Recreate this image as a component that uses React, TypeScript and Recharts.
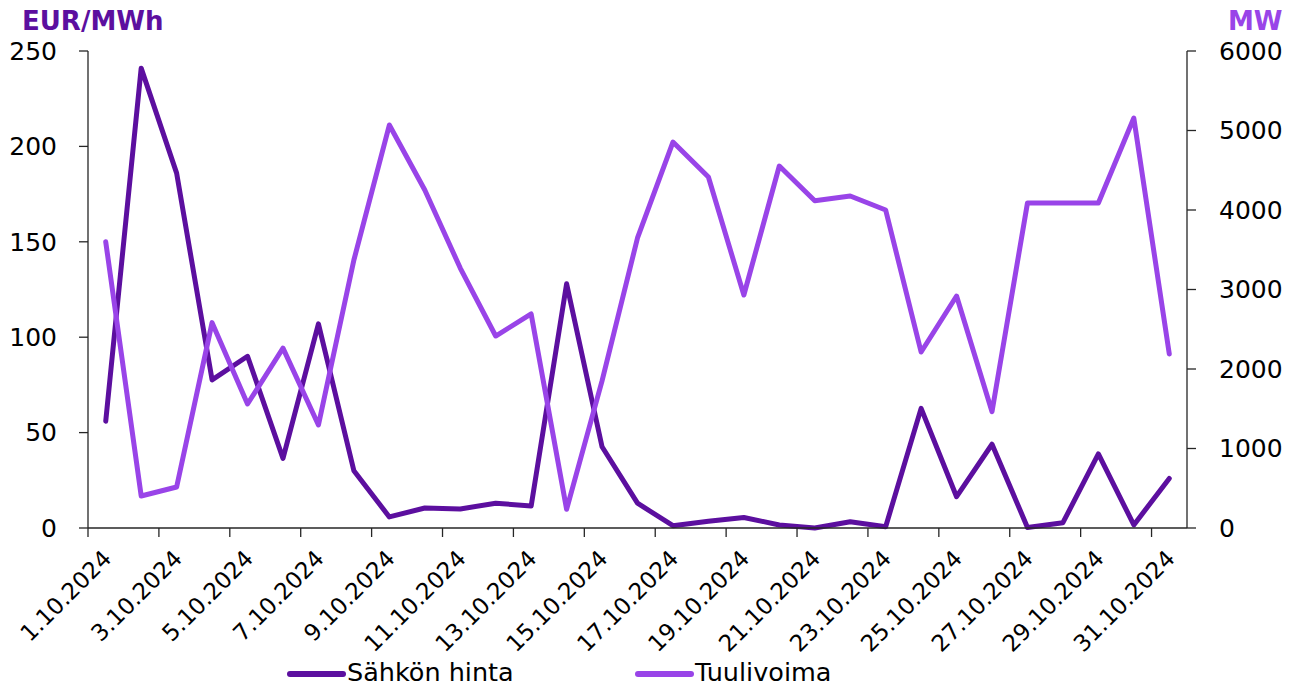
import { LineChart, Line, XAxis, YAxis } from "recharts";

const W = 1305;
const H = 690;
const PLOT_LEFT = 88;
const PLOT_RIGHT = 1187;
const PLOT_TOP = 51;
const PLOT_BOTTOM = 528;
const Y_AXIS_W = 60;
const X_AXIS_H = 60;
const STEP = (PLOT_RIGHT - PLOT_LEFT) / 31;

const DARK = "#5C0F9F";
const LIGHT = "#9944E8";
const FONT = '"DejaVu Sans", sans-serif';

const dates = [
  "1.10.2024", "2.10.2024", "3.10.2024", "4.10.2024", "5.10.2024", "6.10.2024",
  "7.10.2024", "8.10.2024", "9.10.2024", "10.10.2024", "11.10.2024", "12.10.2024",
  "13.10.2024", "14.10.2024", "15.10.2024", "16.10.2024", "17.10.2024", "18.10.2024",
  "19.10.2024", "20.10.2024", "21.10.2024", "22.10.2024", "23.10.2024", "24.10.2024",
  "25.10.2024", "26.10.2024", "27.10.2024", "28.10.2024", "29.10.2024", "30.10.2024",
  "31.10.2024",
];

// Sähkön hinta, EUR/MWh
const price = [
  56, 241, 186, 77.6, 90, 36.5, 107, 30, 5.8, 10.5, 10, 13, 11.5, 128, 42.6, 13,
  1.2, 3.5, 5.5, 1.6, 0, 3.3, 0.7, 62.7, 16.4, 43.9, 0.3, 2.8, 38.8, 1.6, 26,
];

// Tuulivoima, MW
const wind = [
  3600, 403, 516, 2583, 1560, 2262, 1296, 3371, 5069, 4252, 3270, 2415, 2692, 235,
  1850, 3648, 4855, 4415, 2931, 4553, 4117, 4176, 4000, 2214, 2918, 1463, 4088,
  4088, 4088, 5157, 2189,
];

const leftTicks = [0, 50, 100, 150, 200, 250];
const rightTicks = [0, 1000, 2000, 3000, 4000, 5000, 6000];
const dayTicks = [0, 2, 4, 6, 8, 10, 12, 14, 16, 18, 20, 22, 24, 26, 28, 30];

// x sits in the middle of each day's slot, ticks fall on slot boundaries
const data = dates.map((d, i) => ({ x: i + 0.5, date: d, price: price[i], wind: wind[i] }));

const DateTick = ({ x, y, payload }: { x: number; y: number; payload: { value: number } }) => {
  const ax = x + STEP / 2 + 7;
  const ay = y + 21;
  return (
    <text
      x={ax}
      y={ay}
      textAnchor="end"
      fontSize={23}
      fontFamily={FONT}
      fill="#000"
      transform={`rotate(-45 ${ax} ${ay})`}
    >
      {dates[payload.value]}
    </text>
  );
};

const LegendItem = ({ color, label, left }: { color: string; label: string; left: number }) => (
  <div style={{ position: "absolute", left, top: 658, height: 28, display: "flex", alignItems: "center" }}>
    <svg width={59} height={12} style={{ marginTop: 4 }}>
      <line x1={3} y1={6} x2={56} y2={6} stroke={color} strokeWidth={6} strokeLinecap="round" />
    </svg>
    <span style={{ fontSize: 25.5, fontFamily: FONT, color: "#000", marginLeft: 1, lineHeight: "28px", whiteSpace: "nowrap" }}>
      {label}
    </span>
  </div>
);

export default function App() {
  return (
    <div style={{ position: "absolute", left: 0, top: 0, width: W, height: H, background: "#fff", overflow: "hidden" }}>
      <LineChart
        width={W}
        height={H}
        data={data}
        margin={{
          top: PLOT_TOP,
          bottom: H - PLOT_BOTTOM - X_AXIS_H,
          left: PLOT_LEFT - Y_AXIS_W,
          right: W - PLOT_RIGHT - Y_AXIS_W,
        }}
      >
        <XAxis
          dataKey="x"
          type="number"
          domain={[0, 31]}
          ticks={dayTicks}
          interval={0}
          height={X_AXIS_H}
          tickSize={9}
          tickMargin={2}
          stroke="#262626"
          strokeWidth={1.3}
          tick={DateTick}
        />
        <YAxis
          yAxisId="l"
          orientation="left"
          domain={[0, 250]}
          ticks={leftTicks}
          width={Y_AXIS_W}
          tickSize={9}
          tickMargin={22}
          stroke="#262626"
          strokeWidth={1.3}
          tick={{ fontSize: 25, fill: "#000", fontFamily: FONT }}
        />
        <YAxis
          yAxisId="r"
          orientation="right"
          domain={[0, 6000]}
          ticks={rightTicks}
          width={Y_AXIS_W}
          tickSize={9}
          tickMargin={23}
          stroke="#262626"
          strokeWidth={1.3}
          tick={{ fontSize: 25, fill: "#000", fontFamily: FONT, textAnchor: "start" }}
        />
        <Line
          yAxisId="l"
          dataKey="price"
          name="Sähkön hinta"
          type="linear"
          stroke={DARK}
          strokeWidth={5}
          strokeLinecap="round"
          strokeLinejoin="round"
          dot={false}
          isAnimationActive={false}
        />
        <Line
          yAxisId="r"
          dataKey="wind"
          name="Tuulivoima"
          type="linear"
          stroke={LIGHT}
          strokeWidth={5}
          strokeLinecap="round"
          strokeLinejoin="round"
          dot={false}
          isAnimationActive={false}
        />
      </LineChart>

      <div style={{ position: "absolute", left: 22, top: 6, fontSize: 26, fontWeight: "bold", fontFamily: FONT, color: DARK }}>
        EUR/MWh
      </div>
      <div style={{ position: "absolute", left: 1228, top: 6, fontSize: 26, fontWeight: "bold", fontFamily: FONT, color: LIGHT }}>
        MW
      </div>

      <LegendItem color={DARK} label="Sähkön hinta" left={287} />
      <LegendItem color={LIGHT} label="Tuulivoima" left={635} />
    </div>
  );
}
